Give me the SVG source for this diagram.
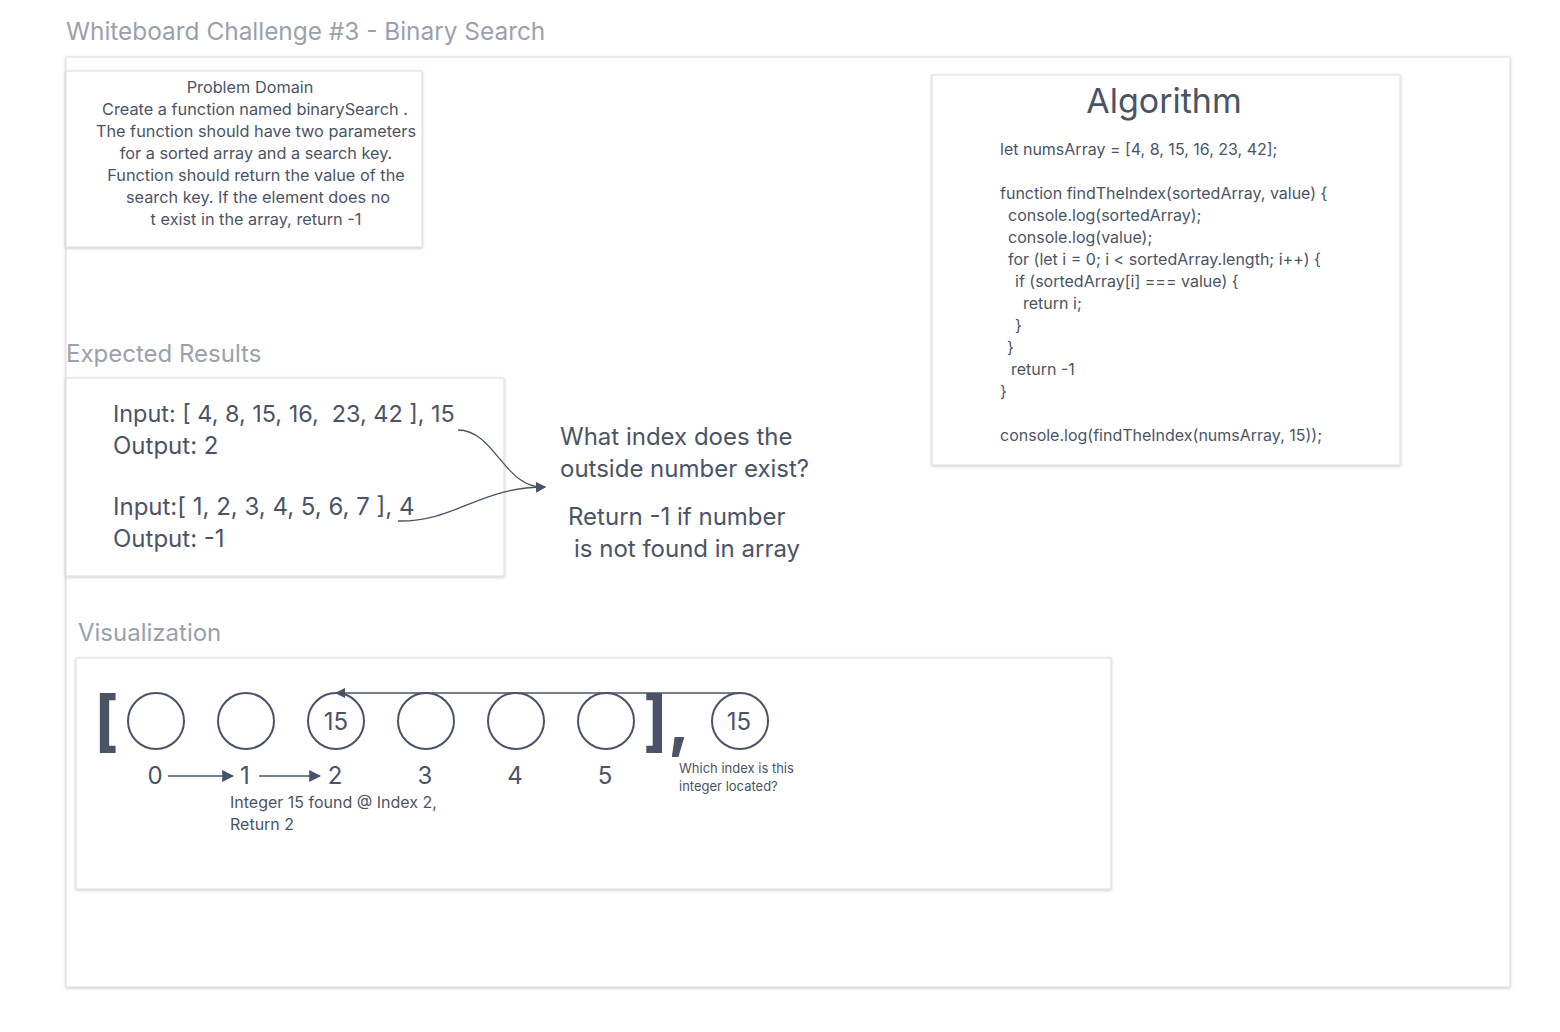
<svg xmlns="http://www.w3.org/2000/svg" width="1560" height="1032" viewBox="0 0 1560 1032">
<defs>
<filter id="sh" x="-5%" y="-5%" width="110%" height="115%">
<feDropShadow dx="0" dy="1" stdDeviation="1.5" flood-color="#000" flood-opacity="0.22"/>
</filter>
<marker id="ah" viewBox="0 0 10 10" refX="9" refY="5" markerWidth="10" markerHeight="10" markerUnits="userSpaceOnUse" orient="auto">
<path d="M0,0 L10,5 L0,10 z" fill="#4b5466"/>
</marker>
<marker id="ah2" viewBox="0 0 10 10" refX="9" refY="5" markerWidth="12" markerHeight="12" markerUnits="userSpaceOnUse" orient="auto">
<path d="M0,0 L10,5 L0,10 z" fill="#4b5466"/>
</marker>
</defs>
<style>
text{font-family:Inter,"Liberation Sans",sans-serif;fill:#4b5466}
.lbl{fill:#9aa1ae;font-size:24px}
.box{fill:#fff;stroke:#dcdcdc;stroke-width:1;filter:url(#sh)}
.pd{font-size:16.3px;text-anchor:middle}
.code{font-size:16px}
.big{font-size:24px}
.circ{fill:none;stroke:#4b5466;stroke-width:2}
.conn{fill:none;stroke:#4b5466;stroke-width:1.3}
.idx{font-size:24px;text-anchor:middle}
</style>
<rect width="1560" height="1032" fill="#fff"/>
<text class="lbl" x="66" y="40" style="font-size:24.4px">Whiteboard Challenge #3 - Binary Search</text>
<rect id="frame" class="box" x="66" y="57" width="1444" height="930"/>

<g id="problem-domain">
<rect class="box" x="66" y="71" width="356" height="176"/>
<text class="pd" x="250" y="93">Problem Domain</text>
<text class="pd" x="255" y="115">Create a function named binarySearch .</text>
<text class="pd" x="256" y="137">The function should have two parameters</text>
<text class="pd" x="256" y="159">for a sorted array and a search key.</text>
<text class="pd" x="256" y="181">Function should return the value of the</text>
<text class="pd" x="258" y="203">search key. If the element does no</text>
<text class="pd" x="256" y="225">t exist in the array, return -1</text>
</g>

<g id="algorithm">
<rect class="box" x="932" y="75" width="468" height="390"/>
<text x="1164" y="113" font-size="34" text-anchor="middle">Algorithm</text>
<text class="code" x="1000" y="155">let numsArray = [4, 8, 15, 16, 23, 42];</text>
<text class="code" x="1000" y="199">function findTheIndex(sortedArray, value) {</text>
<text class="code" x="1008" y="221">console.log(sortedArray);</text>
<text class="code" x="1008" y="243">console.log(value);</text>
<text class="code" x="1008" y="265">for (let i = 0; i &lt; sortedArray.length; i++) {</text>
<text class="code" x="1015" y="287">if (sortedArray[i] === value) {</text>
<text class="code" x="1023" y="309">return i;</text>
<text class="code" x="1015" y="331">}</text>
<text class="code" x="1007" y="353">}</text>
<text class="code" x="1011" y="375">return -1</text>
<text class="code" x="1000" y="397">}</text>
<text class="code" x="1000" y="441">console.log(findTheIndex(numsArray, 15));</text>
</g>

<text class="lbl" x="66" y="362">Expected Results</text>
<g id="expected-results">
<rect class="box" x="66" y="378" width="438" height="198"/>
<text class="big" x="113" y="422" style="font-size:23.4px" xml:space="preserve">Input: [ 4, 8, 15, 16,  23, 42 ], 15</text>
<text class="big" x="113" y="454">Output: 2</text>
<text class="big" x="113" y="515">Input:[ 1, 2, 3, 4, 5, 6, 7 ], 4</text>
<text class="big" x="113" y="547">Output: -1</text>
</g>

<g id="question">
<text class="big" x="560" y="445">What index does the</text>
<text class="big" x="560" y="477">outside number exist?</text>
<text class="big" x="568" y="525">Return -1 if number</text>
<text class="big" x="574" y="557">is not found in array</text>
</g>

<text class="lbl" x="78" y="641">Visualization</text>
<g id="visualization">
<rect class="box" x="76" y="658" width="1035" height="231"/>
</g>
<g id="array">
<text x="94" y="744" font-size="66" font-weight="bold">[</text>
<circle id="c0" class="circ" cx="156" cy="721" r="28"/>
<circle id="c1" class="circ" cx="246" cy="721" r="28"/>
<g id="c2"><circle class="circ" cx="336" cy="721" r="28"/><text class="idx" x="336" y="730">15</text></g>
<circle id="c3" class="circ" cx="426" cy="721" r="28"/>
<circle id="c4" class="circ" cx="516" cy="721" r="28"/>
<circle id="c5" class="circ" cx="606" cy="721" r="28"/>
<text x="643" y="744" font-size="66" font-weight="bold">],</text>
<g id="key"><circle class="circ" cx="740" cy="721" r="28"/><text class="idx" x="739" y="730">15</text></g>
<text class="idx" x="155" y="784">0</text>
<text class="idx" x="245" y="784">1</text>
<text class="idx" x="335" y="784">2</text>
<text class="idx" x="425" y="784">3</text>
<text class="idx" x="515" y="784">4</text>
<text class="idx" x="605" y="784">5</text>
<text x="230" y="808" font-size="16">Integer 15 found @ Index 2,</text>
<text x="230" y="830" font-size="16">Return 2</text>
<text x="679" y="773" font-size="13">Which index is this</text>
<text x="679" y="791" font-size="13">integer located?</text>
</g>

<g id="connectors">
<path class="conn" d="M458,430 C495,430 505,490 545,487" marker-end="url(#ah)"/>
<path class="conn" d="M398,521 C455,522 480,487 545,487" marker-end="url(#ah)"/>
<path class="conn" stroke-width="2" d="M740,693 L336,693" marker-end="url(#ah)"/>
<path class="conn" stroke-width="2" d="M168,776 L233,776" marker-end="url(#ah2)"/>
<path class="conn" stroke-width="2" d="M259,776 L320,776" marker-end="url(#ah2)"/>
</g>
</svg>
